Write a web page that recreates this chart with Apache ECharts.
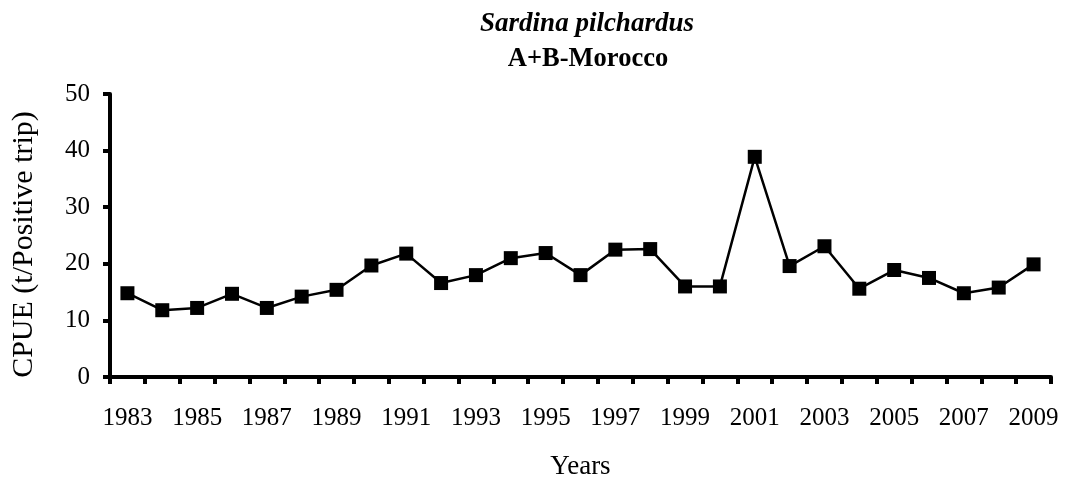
<!DOCTYPE html>
<html><head><meta charset="utf-8">
<script src="https://cdn.jsdelivr.net/npm/echarts@6/dist/echarts.min.js"></script>
<style>html,body{margin:0;padding:0;background:#fff}#c{width:1066px;height:477px}</style>
</head><body><div id="c"></div>
<script>
const years = ['1983','1984','1985','1986','1987','1988','1989','1990','1991','1992','1993','1994','1995','1996','1997','1998','1999','2000','2001','2002','2003','2004','2005','2006','2007','2008','2009'];
const cpue = [14.8,11.8,12.2,14.7,12.2,14.2,15.4,19.7,21.8,16.6,18.0,21.0,21.9,18.0,22.5,22.6,16.0,16.0,38.9,19.6,23.1,15.6,18.9,17.5,14.8,15.8,19.9];
const yTicks = [0,10,20,30,40,50];
const font = 'Liberation Serif';
const chart = echarts.init(document.getElementById('c'));
chart.setOption({
  animation:false,
  title:[
    {text:'Sardina pilchardus',left:582,top:6,textAlign:'center',textStyle:{fontFamily:font,fontSize:27,fontStyle:'italic',fontWeight:'bold',color:'#000'}},
    {text:'A+B-Morocco',left:583,top:41,textAlign:'center',textStyle:{fontFamily:font,fontSize:26.5,fontWeight:'bold',color:'#000'}}
  ],
  grid:{left:110,right:15,top:94,bottom:100,outerBoundsMode:'none',containLabel:false},
  xAxis:{type:'category',data:years,boundaryGap:true,
    name:'Years',nameLocation:'middle',nameGap:76,nameTextStyle:{fontFamily:font,fontSize:27,color:'#000'},
    axisLine:{lineStyle:{color:'#000',width:4}},
    axisTick:{show:true,inside:false,length:7,alignWithLabel:false,interval:0,lineStyle:{color:'#000',width:4}},
    axisLabel:{interval:1,margin:29,fontFamily:font,fontSize:25,color:'#000'}},
  yAxis:{type:'value',min:yTicks[0],max:yTicks[yTicks.length-1],interval:10,
    name:'CPUE (t/Positive trip)',nameLocation:'middle',nameGap:71,nameTextStyle:{fontFamily:font,fontSize:30,color:'#000',padding:[0,18,0,0]},
    axisLine:{show:true,lineStyle:{color:'#000',width:4}},
    axisTick:{show:true,length:7,lineStyle:{color:'#000',width:4}},
    splitLine:{show:false},
    axisLabel:{margin:20,fontFamily:font,fontSize:25,color:'#000'}},
  series:[{type:'line',data:cpue,symbol:'rect',symbolSize:14,
    lineStyle:{color:'#000',width:2.5},itemStyle:{color:'#000'}}]
});
</script></body></html>
